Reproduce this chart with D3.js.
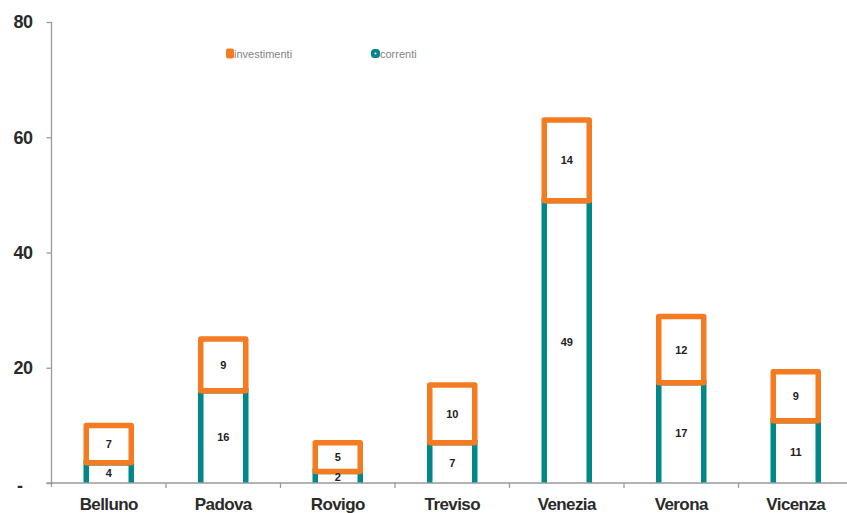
<!DOCTYPE html>
<html><head><meta charset="utf-8">
<script src="https://cdn.jsdelivr.net/npm/d3@7"></script>
<style>
html,body{margin:0;padding:0;background:#fff;}
svg{display:block;font-family:"Liberation Sans",Arial,sans-serif;}
</style></head>
<body>
<svg id="chart" width="847" height="513"></svg>
<script>
const categories = ["Belluno","Padova","Rovigo","Treviso","Venezia","Verona","Vicenza"];
const correnti = [3.5, 16, 2, 7, 49, 17.4, 10.8];
const investimenti = [6.5, 9, 5, 10, 14, 11.5, 8.5];
const yTicks = [0, 20, 40, 60, 80];
const seriesNames = ["investimenti", "correnti"];

(function(){
const orange = "#F47B20", teal = "#00878A";
const svg = d3.select("#chart");
const mLeft = 51.5, mRight = 853, mTop = 22, mBottom = 483;

const x = d3.scaleBand().domain(categories).range([mLeft, mRight]).padding(0);
const y = d3.scaleLinear().domain([0, 80]).range([mBottom, mTop]);
const bw = 45;

svg.append("clipPath").attr("id","clip").append("rect")
  .attr("x", 0).attr("y", 0).attr("width", 847).attr("height", mBottom);

const g = svg.append("g").attr("clip-path","url(#clip)");
categories.forEach((c, i) => {
  const cx = x(c) + x.bandwidth() / 2;
  const c0 = y(0), c1 = y(correnti[i]), t = y(correnti[i] + investimenti[i]);
  g.append("rect").attr("x", cx - bw/2).attr("y", c1).attr("width", bw).attr("height", c0 - c1 + 10)
    .attr("fill", "#fff").attr("stroke", teal).attr("stroke-width", 5.5);
  g.append("rect").attr("x", cx - bw/2).attr("y", t).attr("width", bw).attr("height", c1 - t)
    .attr("fill", "#fff").attr("stroke", orange).attr("stroke-width", 5.5).attr("stroke-linejoin","round");
  svg.append("text").attr("x", cx).attr("y", (c0 + c1)/2 + 4).attr("text-anchor","middle")
    .attr("font-size", 11).attr("font-weight","bold").attr("fill","#222").text(Math.round(correnti[i]));
  svg.append("text").attr("x", cx).attr("y", (c1 + t)/2 + 4).attr("text-anchor","middle")
    .attr("font-size", 11).attr("font-weight","bold").attr("fill","#222").text(Math.round(investimenti[i]));
});

// y axis
const yAxis = svg.append("g").attr("transform", `translate(${mLeft},0)`)
  .call(d3.axisLeft(y).tickValues(yTicks).tickSize(5).tickPadding(14)
    .tickFormat(d => d === 0 ? "-" : d));
yAxis.select(".domain").attr("stroke","#9a9a9a").attr("stroke-width",1.3)
  .attr("d", `M0,${mTop}V${mBottom + 4}`);
yAxis.selectAll(".tick line").attr("stroke","#9a9a9a").attr("stroke-width",1.3);
yAxis.selectAll(".tick text").attr("font-size", 18).attr("font-weight","bold").attr("fill","#2a2a2a")
  .attr("font-family","Liberation Sans, Arial, sans-serif").attr("letter-spacing","-0.5")
  .attr("dx", d => d === 0 ? -10 : 0).attr("dy", d => d === 0 ? "0.45em" : "0.32em");

// x axis
const bounds = categories.slice(1).map(c => x(c));
const xAxis = svg.append("g").attr("transform", `translate(0,${mBottom})`);
xAxis.append("line").attr("x1", mLeft - 5).attr("x2", mRight).attr("y1", 0).attr("y2", 0)
  .attr("stroke","#9a9a9a").attr("stroke-width",1.3);
xAxis.selectAll("line.tk").data(bounds).join("line").attr("class","tk")
  .attr("x1", d => d).attr("x2", d => d).attr("y1", 0).attr("y2", 5)
  .attr("stroke","#9a9a9a").attr("stroke-width",1.3);
xAxis.selectAll("text").data(categories).join("text")
  .attr("x", d => x(d) + x.bandwidth()/2).attr("y", 27).attr("text-anchor","middle")
  .attr("font-size", 17).attr("font-weight","bold").attr("fill","#2a2a2a").attr("letter-spacing","-0.6")
  .text(d => d);

// legend
const leg = svg.append("g");
const lx = [226, 371];
seriesNames.forEach((n, i) => {
  const gx = lx[i];
  if (i === 0) {
    leg.append("rect").attr("x", gx).attr("y", 48.5).attr("width", 8).attr("height", 10).attr("rx", 2)
      .attr("fill", orange);
  } else {
    leg.append("rect").attr("x", gx).attr("y", 49).attr("width", 9).attr("height", 9).attr("rx", 3.5)
      .attr("fill", teal);
    leg.append("circle").attr("cx", gx + 4.5).attr("cy", 53.5).attr("r", 1).attr("fill", "#fff");
  }
  leg.append("text").attr("x", gx + (i === 0 ? 8 : 9)).attr("y", 57.5).attr("font-size", 11)
    .attr("fill", "#858585").text(n);
});
})();
</script>
</body></html>
